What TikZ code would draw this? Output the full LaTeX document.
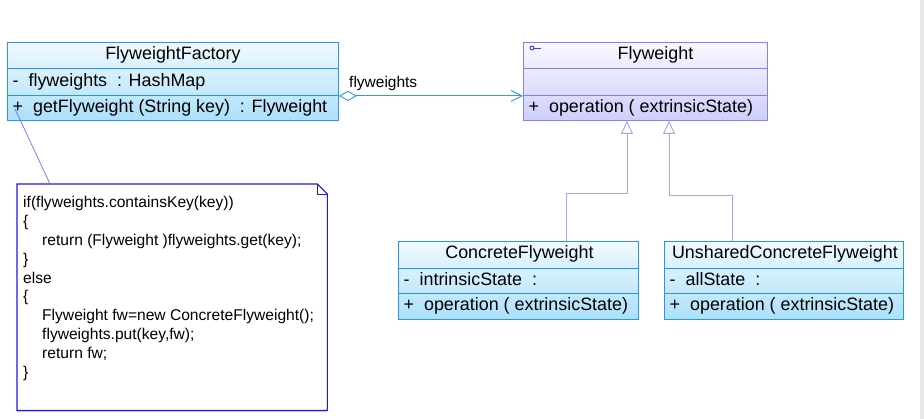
\documentclass[tikz,border=0pt]{standalone}
\usepackage{fontspec}
\setmainfont{Liberation Sans}
\usetikzlibrary{arrows.meta,calc}

\definecolor{classedge}{RGB}{40,148,240}
\definecolor{classtop}{RGB}{240,249,255}
\definecolor{classbottom}{RGB}{172,224,250}
\definecolor{ifaceedge}{RGB}{130,130,240}
\definecolor{ifacetop}{RGB}{248,248,255}
\definecolor{ifacebottom}{RGB}{206,206,250}
\definecolor{iconblue}{RGB}{60,60,225}
\definecolor{aggrblue}{RGB}{50,150,245}
\definecolor{inheritline}{RGB}{165,165,240}
\definecolor{noteedge}{RGB}{25,25,240}
\definecolor{notelink}{RGB}{110,110,250}
\definecolor{strip}{RGB}{232,232,232}

\newcommand\classfont{\fontsize{17.9}{20}\selectfont}
\newcommand\codefont{\fontsize{15.6}{18.9}\selectfont}
\newcommand\tagfont{\fontsize{15.5}{18}\selectfont}

\begin{document}
\begin{tikzpicture}[x=1pt,y=-1pt,
  classbox/.style={draw=classedge, line width=0.9pt, top color=classtop,
    bottom color=classbottom, anchor=north west, inner sep=0pt},
  ifacebox/.style={draw=ifaceedge, line width=0.9pt, top color=ifacetop,
    bottom color=ifacebottom, anchor=north west, inner sep=0pt},
  divider/.style={draw=#1, line width=0.9pt},
  classname/.style={anchor=base, inner sep=0pt, font=\classfont},
  member/.style={anchor=base west, inner sep=0pt, font=\classfont},
  aggregation/.style={draw=aggrblue, line width=0.9pt,
    {Diamond[open,length=18pt,width=10pt,fill=white]}-{Straight Barb[length=11pt,width=11pt]}},
  generalization/.style={draw=inheritline, line width=0.9pt,
    -{Triangle[open,length=13pt,width=12pt,fill=white]}},
  notebody/.style={anchor=north west, inner sep=0pt, fill=white},
  noteline/.style={draw=noteedge, line width=1.1pt, line join=miter},
  notelinkstyle/.style={draw=notelink, line width=0.7pt}]

\useasboundingbox (0,0) rectangle (924,419);
\fill[white] (0,0) rectangle (924,419);
\fill[strip] (920,0) rectangle (924,419);

% FlyweightFactory
\node[classbox, minimum width=331pt, minimum height=78pt] (ff) at (7,42) {};
\draw[divider=classedge] ($(ff.north west)+(0,26)$) -- ($(ff.north east)+(0,26)$);
\draw[divider=classedge] ($(ff.north west)+(0,53)$) -- ($(ff.north east)+(0,53)$);
\node[classname] (ffname) at ($(ff.north)+(0,18)$) {FlyweightFactory};
\node[member] (ffattr) at ($(ff.north west)+(5.5,45)$) {-~~flyweights~ : HashMap};
\node[member] (ffop) at ($(ff.north west)+(5.5,71)$) {+~~getFlyweight (String key)~ : Flyweight};

% Flyweight
\node[ifacebox, minimum width=244pt, minimum height=78pt] (fw) at (523,42) {};
\draw[divider=ifaceedge] ($(fw.north west)+(0,26)$) -- ($(fw.north east)+(0,26)$);
\draw[divider=ifaceedge] ($(fw.north west)+(0,53)$) -- ($(fw.north east)+(0,53)$);
\draw[iconblue, line width=0.9pt] ($(fw.north west)+(9,6)$) circle (2pt);
\draw[iconblue, line width=0.9pt] ($(fw.north west)+(11,6)$) -- ($(fw.north west)+(18,6)$);
\node[classname] (fwname) at ($(fw.north)+(10,18)$) {Flyweight};
\node[member] (fwop) at ($(fw.north west)+(5.5,71)$) {+~~operation ( extrinsicState)};

% ConcreteFlyweight
\node[classbox, minimum width=240pt, minimum height=78pt] (cf) at (398,241) {};
\draw[divider=classedge] ($(cf.north west)+(0,27)$) -- ($(cf.north east)+(0,27)$);
\draw[divider=classedge] ($(cf.north west)+(0,52)$) -- ($(cf.north east)+(0,52)$);
\node[classname] (cfname) at ($(cf.north)+(1,18)$) {ConcreteFlyweight};
\node[member] (cfattr) at ($(cf.north west)+(5.5,45)$) {-~~intrinsicState~ :};
\node[member] (cfop) at ($(cf.north west)+(5.5,70)$) {+~~operation ( extrinsicState)};

% UnsharedConcreteFlyweight
\node[classbox, minimum width=239pt, minimum height=78pt] (ucf) at (664,241) {};
\draw[divider=classedge] ($(ucf.north west)+(0,27)$) -- ($(ucf.north east)+(0,27)$);
\draw[divider=classedge] ($(ucf.north west)+(0,52)$) -- ($(ucf.north east)+(0,52)$);
\node[classname] (ucfname) at ($(ucf.north)+(1,18)$) {UnsharedConcreteFlyweight};
\node[member] (ucfattr) at ($(ucf.north west)+(5.5,45)$) {-~~allState~ :};
\node[member] (ucfop) at ($(ucf.north west)+(5.5,70)$) {+~~operation ( extrinsicState)};

% aggregation FlyweightFactory <>--> Flyweight
\draw[aggregation] ($(ff.south east)+(0,-25)$) -- ($(fw.south west)+(0,-25)$);
\node[anchor=base west, inner sep=0pt, font=\tagfont] (agglabel) at (349,87.5) {flyweights};

% generalizations
\draw[generalization] ($(cf.north west)+(168,0)$) |- ($(fw.south west)+(104,73)$) -- ($(fw.south west)+(104,0)$);
\draw[generalization] ($(ucf.north west)+(68,0)$) |- ($(fw.south west)+(146,75)$) -- ($(fw.south west)+(146,0)$);

% note attached to getFlyweight
\node[notebody, minimum width=310pt, minimum height=226pt] (note) at (17,184) {};
\draw[noteline] (note.north west) -- ($(note.north east)+(-10,0)$) -- ($(note.north east)+(0,10)$)
  -- (note.south east) -- (note.south west) -- cycle;
\draw[noteline, line width=0.8pt] ($(note.north east)+(-10,0)$) |- ($(note.north east)+(0,10)$);
\draw[draw=notelink!45, line width=0.8pt] ($(note.south west)+(0,1.4)$) -- ($(note.south east)+(0,1.4)$);
\draw[notelinkstyle] ($(ff.south west)+(8,-12)$) -- ($(note.north west)+(33,0)$);
\node[anchor=base west, inner sep=0pt] (code) at ($(note.north west)+(6,23.5)$) {\codefont
  \begin{tabular}[t]{@{}l@{}}
  if(flyweights.containsKey(key))\\
  \{\\
  \hspace*{19pt}return (Flyweight )flyweights.get(key);\\
  \}\\
  else\\
  \{\\
  \hspace*{19pt}Flyweight fw=new ConcreteFlyweight();\\
  \hspace*{19pt}flyweights.put(key,fw);\\
  \hspace*{19pt}return fw;\\
  \}
  \end{tabular}};
\end{tikzpicture}
\end{document}
